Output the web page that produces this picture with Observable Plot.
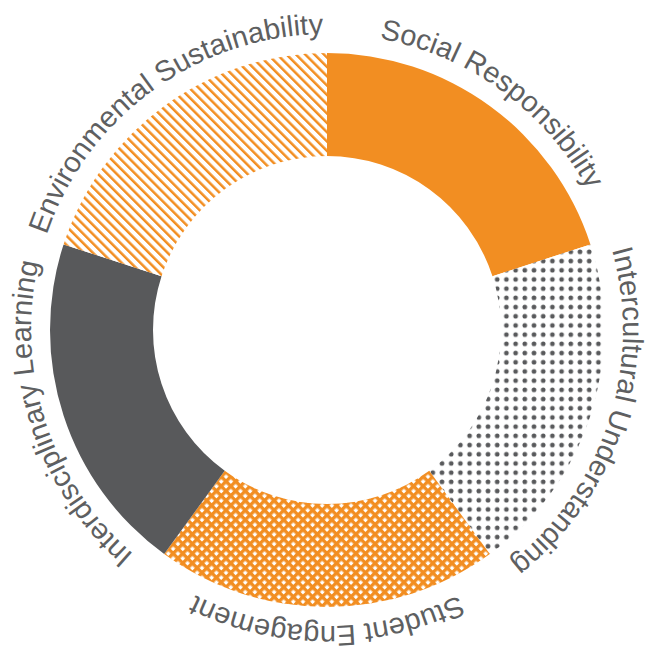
<!DOCTYPE html>
<html>
<head>
<meta charset="utf-8">
<script src="https://cdn.jsdelivr.net/npm/d3@7"></script>
<script src="https://cdn.jsdelivr.net/npm/@observablehq/plot@0.6"></script>
<style>
  html, body { margin: 0; padding: 0; background: #fff; }
</style>
</head>
<body>
<div id="chart"></div>
<script>
// ---- data ----
const categories = [
  "Social Responsibility",
  "Intercultural Understanding",
  "Student Engagement",
  "Interdisciplinary Learning",
  "Environmental Sustainability"
];
const shares = [20, 20, 20, 20, 20];
const fillStyles = ["solidOrange", "dots", "crosshatch", "solidGray", "stripes"];

const data = categories.map((c, i) => ({category: c, value: shares[i], style: fillStyles[i]}));

// ---- styling ----
const ORANGE = "#F28E22";
const GRAY = "#58595B";
const TEXT = "#5E5F61";

function donutMark(index, scales, values, dimensions) {
  const {width, height, marginTop, marginRight, marginBottom, marginLeft} = dimensions;
  const cx = marginLeft + (width - marginLeft - marginRight) / 2;
  const cy = marginTop + (height - marginTop - marginBottom) / 2;
  const outer = 277, inner = 174, labelR = 296;

  const g = d3.create("svg:g");
  const defs = g.append("defs");

  // diagonal stripes "\"
  const sp = 6.6;
  const st = defs.append("pattern").attr("id", "pat-stripes")
    .attr("patternUnits", "userSpaceOnUse").attr("width", sp).attr("height", sp)
    .attr("patternTransform", "rotate(-45)");
  st.append("rect").attr("width", sp).attr("height", sp).attr("fill", "#fff");
  st.append("rect").attr("x", 0).attr("y", 0).attr("width", 2.5).attr("height", sp).attr("fill", ORANGE);

  // crosshatch
  const cp = 6.8, cw = 3.4;
  const ch = defs.append("pattern").attr("id", "pat-cross")
    .attr("patternUnits", "userSpaceOnUse").attr("width", cp).attr("height", cp)
    .attr("patternTransform", "rotate(45)");
  ch.append("rect").attr("width", cp).attr("height", cp).attr("fill", "#fff");
  ch.append("rect").attr("x", 0).attr("y", 0).attr("width", cw).attr("height", cp).attr("fill", ORANGE);
  ch.append("rect").attr("x", 0).attr("y", 0).attr("width", cp).attr("height", cw).attr("fill", ORANGE);

  // dots
  const dp = 9.2;
  const dt = defs.append("pattern").attr("id", "pat-dots")
    .attr("patternUnits", "userSpaceOnUse").attr("width", dp).attr("height", dp);
  dt.append("rect").attr("width", dp).attr("height", dp).attr("fill", "#fff");
  dt.append("circle").attr("cx", dp / 2).attr("cy", dp / 2).attr("r", 2.35).attr("fill", GRAY);

  const fillFor = s => ({
    solidOrange: ORANGE,
    solidGray: GRAY,
    stripes: "url(#pat-stripes)",
    crosshatch: "url(#pat-cross)",
    dots: "url(#pat-dots)"
  })[s];

  const pie = d3.pie().sort(null).value(d => d.value);
  const arcs = pie(data);
  const arc = d3.arc().innerRadius(inner).outerRadius(outer);

  const root = g.append("g").attr("transform", `translate(${cx},${cy})`);
  root.selectAll("path.slice").data(arcs).join("path")
    .attr("class", "slice")
    .attr("d", arc)
    .attr("fill", d => fillFor(d.data.style));

  // label paths (clockwise arcs just outside the ring)
  const pt = a => [labelR * Math.sin(a), -labelR * Math.cos(a)];
  arcs.forEach((d, i) => {
    const [x0, y0] = pt(d.startAngle);
    const [x1, y1] = pt(d.endAngle);
    defs.append("path").attr("id", `lbl-path-${i}`)
      .attr("d", `M${x0 + cx},${y0 + cy} A${labelR},${labelR} 0 0 1 ${x1 + cx},${y1 + cy}`)
      .attr("fill", "none");
  });

  const txt = g.append("g")
    .attr("font-family", "'Liberation Sans', Arial, Helvetica, sans-serif")
    .attr("font-size", 29)
    .attr("fill", TEXT);
  arcs.forEach((d, i) => {
    const t = txt.append("text").attr("text-anchor", "middle");
    t.append("textPath")
      .attr("href", `#lbl-path-${i}`)
      .attr("startOffset", "50%")
      .text(d.data.category);
  });

  return g.node();
}

const chart = Plot.plot({
  width: 648,
  height: 652,
  marginLeft: 6,
  marginRight: 0,
  marginTop: 8,
  marginBottom: 0,
  marks: [donutMark]
});
document.getElementById("chart").appendChild(chart);
</script>
</body>
</html>
